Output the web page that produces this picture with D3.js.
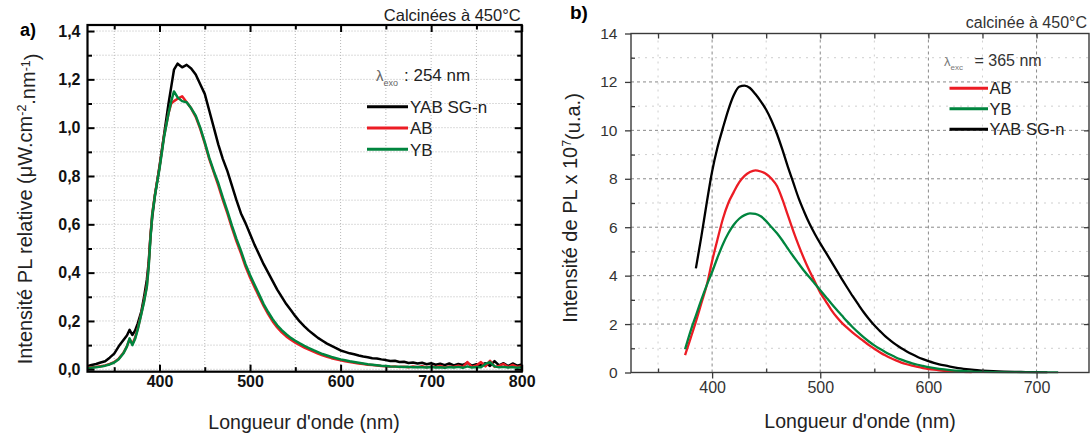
<!DOCTYPE html>
<html><head><meta charset="utf-8">
<script src="https://cdn.jsdelivr.net/npm/d3@7"></script>
<style>
body{margin:0;background:#fff}
svg{display:block}
text{font-family:"Liberation Sans",Arial,sans-serif}
</style>
</head><body>
<svg id="c" width="1091" height="436"></svg>
<script>
// ---------- Panel a data (λexo 254 nm) ----------
const waveA = [320,325,330,335,340,345,350,355,360,364,367,370,373,376,380,383,386,388,390,392,395,400,405,410,413,416,
420,425,430,435,440,445,450,455,460,465,470,475,480,485,490,495,500,505,510,515,520,525,530,535,540,545,550,555,560,565,
570,575,580,585,590,595,600,605,610,615,620,625,630,635,640,645,650,655,660,665,670,675,680,685,690,695,700,705,710,715,
720,725,730,735,740,745,750,755,760,765,770,775,780,785,790,795,800];
const yabA = [0.012,0.018,0.022,0.028,0.033,0.048,0.065,0.095,0.12,0.14,0.163,0.142,0.16,0.19,0.24,0.30,0.37,0.44,0.55,0.63,0.72,0.84,0.97,1.10,1.17,1.24,
1.265,1.25,1.26,1.245,1.22,1.18,1.14,1.07,1.0,0.93,0.87,0.82,0.76,0.70,0.645,0.605,0.56,0.515,0.475,0.435,0.40,0.365,0.33,0.30,0.27,0.245,0.22,0.197,0.178,0.16,
0.145,0.13,0.118,0.106,0.097,0.088,0.078,0.072,0.066,0.062,0.057,0.053,0.05,0.046,0.045,0.041,0.038,0.034,0.035,0.03,0.031,0.026,0.028,0.024,0.027,0.021,0.025,0.019,0.023,0.017,
0.024,0.016,0.022,0.018,0.026,0.015,0.021,0.017,0.025,0.014,0.034,0.016,0.025,0.013,0.024,0.015,0.02];
const abA = [0.006,0.008,0.01,0.013,0.016,0.022,0.03,0.044,0.067,0.095,0.125,0.105,0.13,0.168,0.232,0.285,0.345,0.43,0.55,0.645,0.725,0.835,0.965,1.06,1.1,1.11,
1.12,1.13,1.105,1.08,1.045,0.995,0.935,0.87,0.815,0.76,0.70,0.645,0.585,0.53,0.48,0.425,0.38,0.34,0.3,0.262,0.228,0.198,0.173,0.153,0.136,0.122,0.11,0.1,0.09,0.081,
0.073,0.065,0.058,0.052,0.046,0.041,0.037,0.033,0.03,0.027,0.024,0.022,0.019,0.018,0.016,0.014,0.013,0.011,0.012,0.009,0.011,0.008,0.012,0.009,0.013,0.008,0.011,0.009,0.014,0.008,
0.012,0.01,0.015,0.009,0.03,0.01,0.016,0.03,0.012,0.035,0.01,0.014,0.022,0.009,0.018,0.01,0.013];
const ybA = [0.004,0.006,0.008,0.011,0.015,0.02,0.028,0.042,0.065,0.094,0.128,0.1,0.125,0.165,0.23,0.28,0.34,0.42,0.54,0.64,0.72,0.83,0.96,1.06,1.11,1.15,
1.125,1.11,1.105,1.08,1.05,1.0,0.94,0.875,0.82,0.77,0.71,0.655,0.595,0.54,0.49,0.435,0.39,0.35,0.31,0.27,0.237,0.207,0.182,0.162,0.145,0.13,0.118,0.107,0.097,0.088,
0.079,0.071,0.063,0.057,0.051,0.046,0.041,0.037,0.033,0.03,0.027,0.024,0.021,0.019,0.017,0.015,0.014,0.012,0.011,0.01,0.009,0.01,0.008,0.009,0.008,0.007,0.009,0.007,0.008,0.006,
0.009,0.007,0.01,0.006,0.012,0.007,0.009,0.008,0.022,0.03,0.012,0.008,0.01,0.007,0.009,0.006,0.008];
const xTicksA = [400,500,600,700,800];
const xMinorA = [350,450,550,650,750];
const yTicksA = [0,0.2,0.4,0.6,0.8,1.0,1.2,1.4];
const yMinorA = [0.1,0.3,0.5,0.7,0.9,1.1,1.3];
const legendA = ["YAB SG-n","AB","YB"];

// ---------- Panel b data (λexc 365 nm) ----------
const waveYabB = [385,390,395,400,405,410,415,420,425,430,435,440,445,450,455,460,465,470,475,480,485,490,495,500,505,510,515,520,525,530,
535,540,545,550,555,560,565,570,575,580,585,590,595,600,605,610,615,620,625,630,635,640,645,650,660,670,680,690,700,710];
const yabB = [4.3,5.6,7.0,8.3,9.3,10.1,10.85,11.45,11.8,11.85,11.75,11.5,11.2,10.85,10.4,9.85,9.2,8.5,7.85,7.2,6.65,6.15,5.72,5.33,4.97,4.6,4.23,3.86,3.5,3.15,
2.82,2.5,2.21,1.95,1.72,1.5,1.32,1.15,1.0,0.87,0.75,0.64,0.55,0.47,0.4,0.34,0.29,0.245,0.205,0.17,0.14,0.115,0.095,0.078,0.052,0.035,0.024,0.017,0.011,0.007];
const waveAbB = [375,380,385,390,395,400,405,410,415,420,425,430,435,440,445,450,455,460,465,470,475,480,485,490,495,500,505,510,515,520,
525,530,535,540,545,550,555,560,565,570,575,580,585,590,595,600,605,610,615,620,625,630,635,640];
const abB = [0.72,1.4,2.1,2.85,3.6,4.6,5.5,6.35,7.0,7.45,7.85,8.12,8.28,8.35,8.3,8.2,8.0,7.7,7.15,6.5,5.85,5.25,4.7,4.2,3.75,3.3,2.95,2.6,2.3,2.05,
1.84,1.65,1.47,1.3,1.13,0.98,0.84,0.71,0.6,0.5,0.41,0.34,0.28,0.23,0.185,0.145,0.115,0.09,0.07,0.052,0.038,0.026,0.017,0.01];
const waveYbB = [375,380,385,390,395,400,405,410,415,420,425,430,435,440,445,450,455,460,465,470,475,480,485,490,495,500,505,510,515,520,
525,530,535,540,545,550,555,560,565,570,575,580,585,590,595,600,610,620,630,640,650,660,680,700,720];
const ybB = [0.96,1.7,2.35,3.0,3.6,4.15,4.75,5.3,5.75,6.1,6.35,6.5,6.57,6.55,6.45,6.25,6.0,5.75,5.45,5.12,4.8,4.5,4.2,3.93,3.67,3.4,3.13,2.86,2.6,2.35,
2.1,1.87,1.66,1.46,1.28,1.12,0.98,0.85,0.73,0.62,0.53,0.45,0.38,0.32,0.27,0.22,0.15,0.1,0.065,0.04,0.025,0.015,0.008,0.004,0.002];
const xTicksB = [400,500,600,700];
const xMinorB = [350,450,550,650,750];
const yTicksB = [0,2,4,6,8,10,12,14];
const yMinorB = [1,3,5,7,9,11,13];
const legendB = ["AB","YB","YAB SG-n"];

const RED = "#ec1c24", GREEN = "#00853e", BLACK = "#000";
const FONT = "Liberation Sans, Arial, sans-serif";
const svg = d3.select("#c");
const defs = svg.append("defs");

// ================= Panel a =================
(function(){
  const L=87.5, R=521.7, T=25, B=371.7;
  const x = d3.scaleLinear().domain([320.5,800]).range([L,R]);
  const y = d3.scaleLinear().domain([-0.01,1.425]).range([B,T]);
  const g = svg.append("g");
  const gx = d3.merge([xTicksA,xMinorA]).filter(v=>v<800);
  g.selectAll(".gxa").data(gx).join("line")
    .attr("x1",d=>x(d)).attr("x2",d=>x(d)).attr("y1",T).attr("y2",B)
    .attr("stroke","#b8b8b8").attr("stroke-width",1).attr("stroke-dasharray","1,2");
  const gy = d3.merge([yTicksA,yMinorA]);
  g.selectAll(".gya").data(gy).join("line")
    .attr("y1",d=>y(d)).attr("y2",d=>y(d)).attr("x1",L).attr("x2",R)
    .attr("stroke","#b8b8b8").attr("stroke-width",1).attr("stroke-dasharray","1,2");

  defs.append("clipPath").attr("id","clipA").append("rect").attr("x",L).attr("y",T).attr("width",R-L).attr("height",B-T);
  const line = d3.line().x(d=>x(d[0])).y(d=>y(d[1]));
  const series = [[yabA,BLACK],[abA,RED],[ybA,GREEN]];
  series.forEach(([vals,col])=>{
    g.append("path").datum(waveA.map((w,i)=>[w,vals[i]]))
      .attr("d",line).attr("fill","none").attr("stroke",col).attr("stroke-width",2.5)
      .attr("stroke-linejoin","round").attr("clip-path","url(#clipA)");
  });

  const fmt = v => d3.format(".1f")(v).replace(".",",");
  const styleAxis = (sel)=>{ sel.select(".domain").remove(); sel.selectAll(".tick line").attr("stroke","#000").attr("stroke-width",2); };
  const labelStyle = s=>s.selectAll("text").attr("font-size",16).attr("font-weight","bold").attr("fill","#111").attr("font-family",FONT);
  g.append("g").attr("transform",`translate(${L},0)`)
    .call(d3.axisLeft(y).tickValues(yTicksA).tickSize(-7).tickPadding(7).tickFormat(fmt))
    .call(styleAxis).call(labelStyle);
  g.append("g").attr("transform",`translate(${L},0)`)
    .call(d3.axisLeft(y).tickValues(yMinorA).tickSize(-4.5).tickFormat("")).call(styleAxis);
  g.append("g").attr("transform",`translate(${R},0)`)
    .call(d3.axisRight(y).tickValues(yTicksA).tickSize(-7).tickFormat("")).call(styleAxis);
  g.append("g").attr("transform",`translate(${R},0)`)
    .call(d3.axisRight(y).tickValues(yMinorA).tickSize(-4.5).tickFormat("")).call(styleAxis);
  g.append("g").attr("transform",`translate(0,${B})`)
    .call(d3.axisBottom(x).tickValues(xTicksA).tickSize(-7).tickPadding(4).tickFormat(d3.format("d")))
    .call(styleAxis).call(labelStyle);
  g.append("g").attr("transform",`translate(0,${B})`)
    .call(d3.axisBottom(x).tickValues(xMinorA).tickSize(-4.5).tickFormat("")).call(styleAxis);
  g.append("g").attr("transform",`translate(0,${T})`)
    .call(d3.axisTop(x).tickValues(xTicksA).tickSize(-7).tickFormat("")).call(styleAxis);
  g.append("g").attr("transform",`translate(0,${T})`)
    .call(d3.axisTop(x).tickValues(xMinorA).tickSize(-4.5).tickFormat("")).call(styleAxis);
  g.append("rect").attr("x",L).attr("y",T).attr("width",R-L).attr("height",B-T)
    .attr("fill","none").attr("stroke","#000").attr("stroke-width",2.2);

  g.append("text").attr("x",304).attr("y",429).attr("text-anchor","middle")
    .attr("font-size",19.5).attr("fill","#222").text("Longueur d'onde (nm)");
  const yl = g.append("text").attr("transform",`translate(32,209) rotate(-90)`).attr("text-anchor","middle")
    .attr("font-size",20).attr("fill","#222");
  yl.append("tspan").text("Intensité PL relative (μW.cm");
  yl.append("tspan").attr("dy","-0.45em").attr("font-size","0.62em").text("-2");
  yl.append("tspan").attr("dy","0.45em").text(".nm");
  yl.append("tspan").attr("dy","-0.45em").attr("font-size","0.62em").text("-1");
  yl.append("tspan").attr("dy","0.45em").text(")");
  g.append("text").attr("x",R-1).attr("y",20.5).attr("text-anchor","end").attr("font-size",16.5).attr("fill","#222").text("Calcinées à 450°C");
  g.append("text").attr("x",20).attr("y",36).attr("font-size",18).attr("font-weight","bold").attr("fill","#000").text("a)");

  const lt = g.append("text").attr("x",376).attr("y",81).attr("fill","#222");
  lt.append("tspan").attr("font-size",15).attr("fill","#666").text("λ");
  lt.append("tspan").attr("font-size",9).attr("dy",5).attr("fill","#666").text("exo");
  lt.append("tspan").attr("font-size",17).attr("dy",-5).attr("x",404).text(": 254 nm");
  const cols = {"YAB SG-n":BLACK,"AB":RED,"YB":GREEN};
  legendA.forEach((name,i)=>{
    const yy = 106.7 + i*21.3;
    g.append("line").attr("x1",367).attr("x2",408).attr("y1",yy).attr("y2",yy).attr("stroke",cols[name]).attr("stroke-width",3);
    g.append("text").attr("x",410).attr("y",yy+6.2).attr("font-size",17).attr("fill","#222").text(name);
  });
})();

// ================= Panel b =================
(function(){
  const L=631, R=1089, T=33.5, B=372.5;
  const x = d3.scaleLinear().domain([325,748.5]).range([L,R]);
  const y = d3.scaleLinear().domain([0,14]).range([B,T]);
  const g = svg.append("g");
  g.selectAll(".gxm").data(xMinorB.filter(v=>v<748)).join("line")
    .attr("x1",d=>x(d)).attr("x2",d=>x(d)).attr("y1",T).attr("y2",B)
    .attr("stroke","#cfcfcf").attr("stroke-width",1).attr("stroke-dasharray","2,5");
  g.selectAll(".gym").data(yMinorB).join("line")
    .attr("y1",d=>y(d)).attr("y2",d=>y(d)).attr("x1",L).attr("x2",R)
    .attr("stroke","#cfcfcf").attr("stroke-width",1).attr("stroke-dasharray","2,5");
  g.selectAll(".gxM").data(xTicksB).join("line")
    .attr("x1",d=>x(d)).attr("x2",d=>x(d)).attr("y1",T).attr("y2",B)
    .attr("stroke","#8a8a8a").attr("stroke-width",1).attr("stroke-dasharray","3,3");
  g.selectAll(".gyM").data(yTicksB.filter(v=>v>0&&v<14)).join("line")
    .attr("y1",d=>y(d)).attr("y2",d=>y(d)).attr("x1",L).attr("x2",R)
    .attr("stroke","#8a8a8a").attr("stroke-width",1).attr("stroke-dasharray","3,3");

  defs.append("clipPath").attr("id","clipB").append("rect").attr("x",L).attr("y",T).attr("width",R-L).attr("height",B-T+1);
  const line = d3.line().curve(d3.curveMonotoneX).x(d=>x(d[0])).y(d=>y(d[1]));
  const series = [[waveYabB,yabB,BLACK],[waveAbB,abB,RED],[waveYbB,ybB,GREEN]];
  series.forEach(([w,vals,col])=>{
    g.append("path").datum(w.map((ww,i)=>[ww,vals[i]]))
      .attr("d",line).attr("fill","none").attr("stroke",col).attr("stroke-width",2.3)
      .attr("stroke-linejoin","round").attr("clip-path","url(#clipB)");
  });

  const AX = "#3a3a3a";
  const styleAxis = (sel)=>{ sel.select(".domain").remove(); sel.selectAll(".tick line").attr("stroke",AX).attr("stroke-width",1.3); };
  g.append("g").attr("transform",`translate(${L},0)`)
    .call(d3.axisLeft(y).tickValues(yTicksB).tickSize(6).tickPadding(7.5).tickFormat(d3.format("d")))
    .call(styleAxis)
    .call(s=>s.selectAll("text").attr("font-size",15.5).attr("fill","#333").attr("font-family",FONT));
  g.append("g").attr("transform",`translate(${L},0)`)
    .call(d3.axisLeft(y).tickValues(yMinorB).tickSize(-4).tickFormat("")).call(styleAxis);
  g.append("g").attr("transform",`translate(0,${B})`)
    .call(d3.axisBottom(x).tickValues(xTicksB).tickSize(6).tickPadding(3).tickFormat(d3.format("d")))
    .call(styleAxis)
    .call(s=>s.selectAll("text").attr("font-size",16).attr("fill","#333").attr("font-family",FONT));
  g.append("g").attr("transform",`translate(0,${B})`)
    .call(d3.axisBottom(x).tickValues(xMinorB.filter(v=>v<748)).tickSize(-4).tickFormat("")).call(styleAxis);
  g.append("g").attr("transform",`translate(0,${T})`)
    .call(d3.axisTop(x).tickValues(d3.merge([xTicksB,xMinorB]).filter(v=>v<748)).tickSize(-5).tickFormat("")).call(styleAxis);
  g.append("g").attr("transform",`translate(${R},0)`)
    .call(d3.axisRight(y).tickValues(yTicksB.filter(v=>v>0&&v<14)).tickSize(-5).tickFormat("")).call(styleAxis);
  g.append("rect").attr("x",L).attr("y",T).attr("width",R-L).attr("height",B-T)
    .attr("fill","none").attr("stroke",AX).attr("stroke-width",1.4);

  g.append("text").attr("x",860).attr("y",428).attr("text-anchor","middle")
    .attr("font-size",19.5).attr("fill","#222").text("Longueur d'onde (nm)");
  const yl = g.append("text").attr("transform",`translate(577,208) rotate(-90)`).attr("text-anchor","middle")
    .attr("font-size",20).attr("fill","#222");
  yl.append("tspan").text("Intensité de PL x 10");
  yl.append("tspan").attr("dy","-0.45em").attr("font-size","0.62em").text("7");
  yl.append("tspan").attr("dy","0.45em").text("(u.a.)");
  g.append("text").attr("x",1087).attr("y",27.5).attr("text-anchor","end").attr("font-size",16).attr("fill","#333").text("calcinée à 450°C");
  g.append("text").attr("x",570).attr("y",18.5).attr("font-size",19).attr("font-weight","bold").attr("fill","#000").text("b)");

  const lt = g.append("text").attr("x",944).attr("y",66).attr("fill","#333");
  lt.append("tspan").attr("font-size",13).attr("fill","#777").text("λ");
  lt.append("tspan").attr("font-size",8).attr("dy",4).attr("fill","#777").text("exc");
  lt.append("tspan").attr("font-size",16).attr("dy",-4).attr("x",970).text(" = 365 nm");
  const cols = {"YAB SG-n":BLACK,"AB":RED,"YB":GREEN};
  legendB.forEach((name,i)=>{
    const yy = 88.3 + i*20.5;
    g.append("line").attr("x1",949.5).attr("x2",988).attr("y1",yy).attr("y2",yy).attr("stroke",cols[name]).attr("stroke-width",3);
    g.append("text").attr("x",989.5).attr("y",yy+6).attr("font-size",16.5).attr("fill","#222").text(name);
  });
})();
</script>
</body></html>
